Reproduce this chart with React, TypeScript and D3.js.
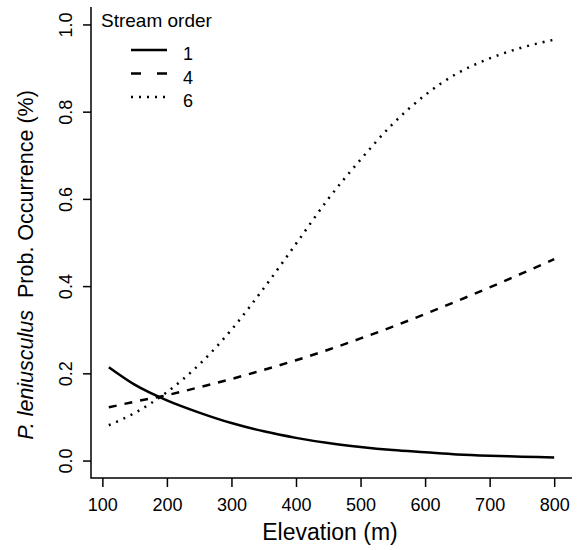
import React, { useEffect, useRef } from "react";
import * as d3 from "d3";

// elevation (m) at which each curve was read
const elevation = [110, 150, 200, 250, 300, 350, 400, 450, 500, 550, 600, 650, 700, 750, 800];

// predicted probability of occurrence, one array per stream order
const order1 = [0.214, 0.174, 0.138, 0.11, 0.086, 0.067, 0.052, 0.04, 0.031, 0.024, 0.019, 0.014, 0.011, 0.009, 0.007];
const order4 = [0.122, 0.135, 0.15, 0.168, 0.187, 0.208, 0.23, 0.254, 0.28, 0.307, 0.336, 0.366, 0.397, 0.429, 0.462];
const order6 = [0.081, 0.109, 0.157, 0.22, 0.3, 0.395, 0.497, 0.6, 0.69, 0.772, 0.838, 0.888, 0.922, 0.947, 0.965];

const seriesNames = ["1", "4", "6"];
const xTicks = [100, 200, 300, 400, 500, 600, 700, 800];
const yTicks = [0, 0.2, 0.4, 0.6, 0.8, 1.0];

const FONT = "'Liberation Sans', Arial, sans-serif";

const App = () => {
  const svgRef = useRef<SVGSVGElement>(null);

  useEffect(() => {
    const svg = d3.select(svgRef.current);
    svg.selectAll("*").remove();

    // R style plot region: 4% padding around the data range
    const x = d3.scaleLinear().domain([82.4, 827.6]).range([91, 572]);
    const y = d3.scaleLinear().domain([-0.04, 1.04]).range([478, 7]);

    const styles = [
      { dash: null, legendDash: null },
      { dash: "8,8", legendDash: "10,16" },
      { dash: "2,6", legendDash: "2,6" },
    ];
    const series = [order1, order4, order6];

    const line = d3
      .line<number>()
      .x((_, i) => x(elevation[i]))
      .y((d) => y(d))
      .curve(d3.curveMonotoneX);

    series.forEach((vals, k) => {
      svg
        .append("path")
        .datum(vals)
        .attr("d", line)
        .attr("fill", "none")
        .attr("stroke", "#000")
        .attr("stroke-width", 2.5)
        .attr("stroke-dasharray", styles[k].dash)
        .attr("stroke-linecap", "butt");
    });

    // box lines (bty = "l")
    svg
      .append("path")
      .attr("d", `M${x.range()[0]},${y.range()[1]}V${y.range()[0]}H${x.range()[1]}`)
      .attr("fill", "none")
      .attr("stroke", "#000")
      .attr("stroke-width", 1.5);

    // x axis
    const xAxis = svg
      .append("g")
      .attr("transform", `translate(0,${y.range()[0]})`)
      .call(d3.axisBottom(x).tickValues(xTicks).tickSize(9).tickPadding(11));
    xAxis.select(".domain").remove();
    xAxis.selectAll("line").attr("stroke-width", 1.5);
    xAxis
      .selectAll("text")
      .attr("font-family", FONT)
      .attr("font-size", 18)
      .attr("fill", "#000");

    // y axis, labels parallel to the axis
    const yAxis = svg
      .append("g")
      .attr("transform", `translate(${x.range()[0]},0)`)
      .call(
        d3
          .axisLeft(y)
          .tickValues(yTicks)
          .tickSize(8)
          .tickFormat(d3.format(".1f"))
      );
    yAxis.select(".domain").remove();
    yAxis.selectAll("line").attr("stroke-width", 1.5);
    yAxis
      .selectAll("text")
      .attr("font-family", FONT)
      .attr("font-size", 18)
      .attr("fill", "#000")
      .attr("x", null)
      .attr("dy", null)
      .attr("text-anchor", "middle")
      .attr("transform", "translate(-19,0) rotate(-90)");

    // axis titles
    svg
      .append("text")
      .attr("x", 330)
      .attr("y", 540)
      .attr("text-anchor", "middle")
      .attr("font-family", FONT)
      .attr("font-size", 23)
      .text("Elevation (m)");

    const yTitle = svg
      .append("text")
      .attr("transform", "translate(33,265) rotate(-90)")
      .attr("text-anchor", "middle")
      .attr("font-family", FONT)
      .attr("font-size", 21.5);
    yTitle.append("tspan").attr("font-style", "italic").text("P. leniusculus");
    yTitle.append("tspan").text("\u00a0 Prob. Occurrence (%)");

    // legend
    const legend = svg.append("g").attr("font-family", FONT);
    legend
      .append("text")
      .attr("x", 101)
      .attr("y", 27)
      .attr("font-size", 19)
      .text("Stream order");
    seriesNames.forEach((name, k) => {
      const ly = 50 + k * 23.5;
      legend
        .append("line")
        .attr("x1", 131)
        .attr("x2", 167)
        .attr("y1", ly)
        .attr("y2", ly)
        .attr("stroke", "#000")
        .attr("stroke-width", 2.5)
        .attr("stroke-dasharray", styles[k].legendDash);
      legend
        .append("text")
        .attr("x", 183)
        .attr("y", ly + 10)
        .attr("font-size", 18)
        .text(name);
    });
  }, []);

  return (
    <svg
      ref={svgRef}
      width={579}
      height={550}
      style={{ position: "absolute", left: 0, top: 0, background: "#fff" }}
    ></svg>
  );
};

export default App;
